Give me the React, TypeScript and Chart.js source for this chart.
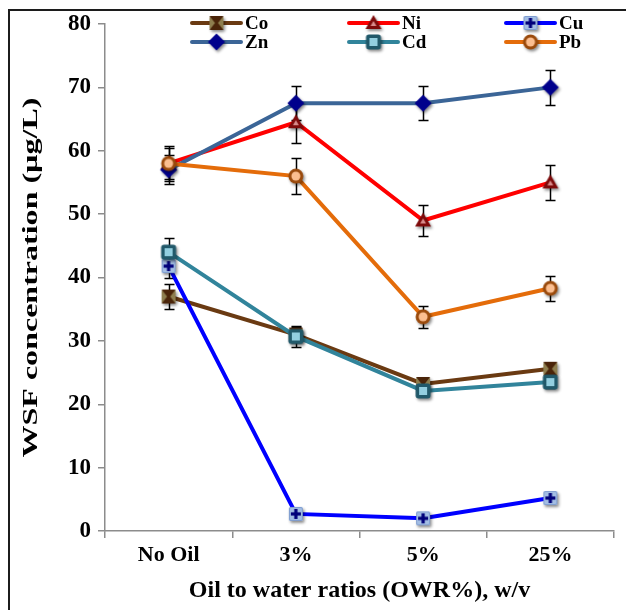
import React, { useEffect, useRef } from "react";
import { Chart, registerables } from "chart.js";

Chart.register(...registerables);

// Oil-to-water ratio categories
const categories = ["No Oil", "3%", "5%", "25%"];

// Mean WSF concentrations (µg/L) per metal
const coValues = [37, 31, 23.2, 25.6];
const niValues = [58, 64.5, 49, 55];
const cuValues = [41.8, 2.7, 2.0, 5.2];
const znValues = [57, 67.5, 67.5, 70];
const cdValues = [44, 30.7, 22.1, 23.5];
const pbValues = [58, 56, 33.8, 38.3];

// Standard deviations (error bars)
const coErrors = [1.9, 1.2, 0.8, 0.9];
const niErrors = [2.5, 3.2, 2.4, 2.7];
const cuErrors = [1.8, 0.4, 0.3, 0.5];
const znErrors = [2.3, 2.7, 2.7, 2.8];
const cdErrors = [2.2, 1.6, 0.8, 0.9];
const pbErrors = [2.8, 2.8, 1.7, 2.0];

const yTicks = [0, 10, 20, 30, 40, 50, 60, 70, 80];

const yTitle = "WSF concentration (µg/L)";
const xTitle = "Oil to water ratios (OWR%), w/v";

const SERIF = "'Liberation Serif', 'Times New Roman', serif";

type MarkerKind = "co" | "ni" | "cu" | "zn" | "cd" | "pb";

function makeMarker(kind: MarkerKind): HTMLCanvasElement {
  const size = 26;
  const c = document.createElement("canvas");
  c.width = size;
  c.height = size;
  const ctx = c.getContext("2d")!;
  const m = size / 2;
  ctx.save();
  ctx.shadowColor = "rgba(0,0,0,0.45)";
  ctx.shadowBlur = 3;
  ctx.shadowOffsetX = 1.5;
  ctx.shadowOffsetY = 2;
  const rr = (x: number, y: number, w: number, h: number, r: number) => {
    ctx.beginPath();
    ctx.moveTo(x + r, y);
    ctx.lineTo(x + w - r, y);
    ctx.quadraticCurveTo(x + w, y, x + w, y + r);
    ctx.lineTo(x + w, y + h - r);
    ctx.quadraticCurveTo(x + w, y + h, x + w - r, y + h);
    ctx.lineTo(x + r, y + h);
    ctx.quadraticCurveTo(x, y + h, x, y + h - r);
    ctx.lineTo(x, y + r);
    ctx.quadraticCurveTo(x, y, x + r, y);
    ctx.closePath();
  };
  if (kind === "co") {
    rr(m - 7, m - 7, 14, 14, 2);
    ctx.fillStyle = "#8E7E4E";
    ctx.fill();
    ctx.restore();
    ctx.fillStyle = "#4A2409";
    ctx.beginPath();
    ctx.moveTo(m - 7, m - 7);
    ctx.lineTo(m + 7, m - 7);
    ctx.lineTo(m + 1.5, m);
    ctx.lineTo(m + 7, m + 7);
    ctx.lineTo(m - 7, m + 7);
    ctx.lineTo(m - 1.5, m);
    ctx.closePath();
    ctx.fill();
  } else if (kind === "ni") {
    ctx.beginPath();
    ctx.moveTo(m, m - 8);
    ctx.lineTo(m + 8, m + 6);
    ctx.lineTo(m - 8, m + 6);
    ctx.closePath();
    ctx.fillStyle = "#7E0A0A";
    ctx.fill();
    ctx.restore();
    ctx.beginPath();
    ctx.moveTo(m, m - 2);
    ctx.lineTo(m + 3, m + 3);
    ctx.lineTo(m - 3, m + 3);
    ctx.closePath();
    ctx.fillStyle = "#D98C8C";
    ctx.fill();
  } else if (kind === "cu") {
    rr(m - 7, m - 7, 14, 14, 1.5);
    ctx.fillStyle = "#A3BEE4";
    ctx.fill();
    ctx.restore();
    ctx.strokeStyle = "#7E9CCF";
    ctx.lineWidth = 1;
    rr(m - 6.5, m - 6.5, 13, 13, 1.5);
    ctx.stroke();
    ctx.fillStyle = "#00007A";
    ctx.fillRect(m - 5, m - 1.6, 10, 3.2);
    ctx.fillRect(m - 1.6, m - 5, 3.2, 10);
  } else if (kind === "zn") {
    ctx.beginPath();
    ctx.moveTo(m, m - 8.5);
    ctx.lineTo(m + 8.5, m);
    ctx.lineTo(m, m + 8.5);
    ctx.lineTo(m - 8.5, m);
    ctx.closePath();
    ctx.fillStyle = "#00008C";
    ctx.fill();
    ctx.restore();
  } else if (kind === "cd") {
    rr(m - 7.5, m - 7.5, 15, 15, 3);
    ctx.fillStyle = "#21596A";
    ctx.fill();
    ctx.restore();
    ctx.fillStyle = "#93CFE0";
    ctx.fillRect(m - 4, m - 4, 8, 8);
  } else {
    ctx.beginPath();
    ctx.arc(m, m, 7.5, 0, Math.PI * 2);
    ctx.fillStyle = "#9A4A0C";
    ctx.fill();
    ctx.restore();
    ctx.beginPath();
    ctx.arc(m, m, 4.5, 0, Math.PI * 2);
    ctx.fillStyle = "#FBBE90";
    ctx.fill();
  }
  return c;
}

export default function App() {
  const canvasRef = useRef<HTMLCanvasElement | null>(null);

  useEffect(() => {
    if (!canvasRef.current) return;

    const series = [
      { label: "Co", data: coValues, err: coErrors, color: "#6A3A12", kind: "co" as MarkerKind, order: 6 },
      { label: "Ni", data: niValues, err: niErrors, color: "#FF0000", kind: "ni" as MarkerKind, order: 5 },
      { label: "Cu", data: cuValues, err: cuErrors, color: "#0000FF", kind: "cu" as MarkerKind, order: 4 },
      { label: "Zn", data: znValues, err: znErrors, color: "#3B6597", kind: "zn" as MarkerKind, order: 3 },
      { label: "Cd", data: cdValues, err: cdErrors, color: "#31849B", kind: "cd" as MarkerKind, order: 2 },
      { label: "Pb", data: pbValues, err: pbErrors, color: "#E46C0A", kind: "pb" as MarkerKind, order: 1 },
    ];
    const markers = series.map((s) => makeMarker(s.kind));

    const errorBars = {
      id: "errorBars",
      beforeDatasetsDraw(chart: any) {
        const ctx = chart.ctx;
        const yScale = chart.scales.y;
        ctx.save();
        ctx.strokeStyle = "#000";
        ctx.lineWidth = 1.5;
        chart.data.datasets.forEach((ds: any, i: number) => {
          const meta = chart.getDatasetMeta(i);
          meta.data.forEach((pt: any, j: number) => {
            const v = ds.data[j];
            const e = series[i].err[j];
            const yt = Math.round(yScale.getPixelForValue(v + e)) + 0.5;
            const yb = Math.round(yScale.getPixelForValue(v - e)) + 0.5;
            const x = Math.round(pt.x) + 0.5;
            ctx.beginPath();
            ctx.moveTo(x, yt);
            ctx.lineTo(x, yb);
            ctx.moveTo(x - 5, yt);
            ctx.lineTo(x + 5, yt);
            ctx.moveTo(x - 5, yb);
            ctx.lineTo(x + 5, yb);
            ctx.stroke();
          });
        });
        ctx.restore();
      },
    };

    // Rotated, lengthened y-axis title
    const yTitlePlugin = {
      id: "yTitlePlugin",
      afterDraw(chart: any) {
        const ctx = chart.ctx;
        const { top, bottom } = chart.chartArea;
        ctx.save();
        ctx.font = `bold 22px ${SERIF}`;
        ctx.fillStyle = "#000";
        ctx.textAlign = "center";
        ctx.textBaseline = "middle";
        const w = ctx.measureText(yTitle).width;
        ctx.translate(31, (top + bottom) / 2);
        ctx.rotate(-Math.PI / 2);
        ctx.scale(360 / w, 1);
        ctx.fillText(yTitle, 0, 0);
        ctx.restore();
      },
    };

    const legendBox = {
      id: "legendBox",
      afterDraw(chart: any) {
        const ctx = chart.ctx;
        const { left, top } = chart.chartArea;
        const cols = [87, 244, 401];
        const rows = [-1, 18];
        ctx.save();
        ctx.font = `bold 19px ${SERIF}`;
        ctx.textBaseline = "middle";
        ctx.fillStyle = "#000";
        series.forEach((s, i) => {
          const x = left + cols[i % 3];
          const y = top + rows[Math.floor(i / 3)];
          ctx.strokeStyle = s.color;
          ctx.lineWidth = 4;
          ctx.lineCap = "round";
          ctx.beginPath();
          ctx.moveTo(x, y);
          ctx.lineTo(x + 49, y);
          ctx.stroke();
          const mk = markers[i];
          ctx.drawImage(mk, x + 24.5 - mk.width / 2, y - mk.height / 2);
          ctx.fillText(s.label, x + 53, y + 1);
        });
        ctx.restore();
      },
    };

    const chart = new Chart(canvasRef.current, {
      type: "line",
      data: {
        labels: categories,
        datasets: series.map((s, i) => ({
          label: s.label,
          data: s.data,
          borderColor: s.color,
          backgroundColor: s.color,
          borderWidth: 4,
          pointStyle: markers[i] as any,
          pointRadius: 8,
          order: s.order,
          tension: 0,
        })),
      },
      options: {
        animation: false,
        responsive: false,
        layout: { padding: { top: 24, right: 2, left: 0, bottom: 0 } },
        plugins: { legend: { display: false }, tooltip: { enabled: false } },
        scales: {
          x: {
            offset: true,
            grid: { offset: true, drawOnChartArea: false, tickLength: 7, color: "#8C8C8C", lineWidth: 1.5 },
            border: { color: "#8C8C8C", width: 1.5 },
            ticks: { color: "#000", font: { family: SERIF, size: 22, weight: "bold" }, padding: 4 },
            title: {
              display: true,
              text: xTitle,
              color: "#000",
              font: { family: SERIF, size: 24, weight: "bold" },
              padding: { top: 0, bottom: 5 },
            },
            afterFit(scale: any) {
              scale.height = 79;
            },
          },
          y: {
            min: 0,
            max: 80,
            afterBuildTicks(scale: any) {
              scale.ticks = yTicks.map((v) => ({ value: v }));
            },
            grid: { drawOnChartArea: false, tickLength: 7, color: "#8C8C8C", lineWidth: 1.5 },
            border: { color: "#8C8C8C", width: 1.5 },
            ticks: { color: "#000", font: { family: SERIF, size: 23, weight: "bold" }, padding: 7 },
            title: { display: false },
            afterFit(scale: any) {
              scale.width = 105;
            },
          },
        },
      },
      plugins: [errorBars, legendBox, yTitlePlugin],
    });

    return () => chart.destroy();
  }, []);

  return (
    <div>
      <div
        style={{
          position: "fixed",
          left: 8,
          top: 9,
          width: 700,
          height: 700,
          borderTop: "2px solid #1c1c1c",
          borderLeft: "2px solid #1c1c1c",
        }}
      />
      <canvas
        ref={canvasRef}
        width={626}
        height={610}
        style={{ position: "fixed", left: 0, top: 0, width: 626, height: 610 }}
      />
    </div>
  );
}
